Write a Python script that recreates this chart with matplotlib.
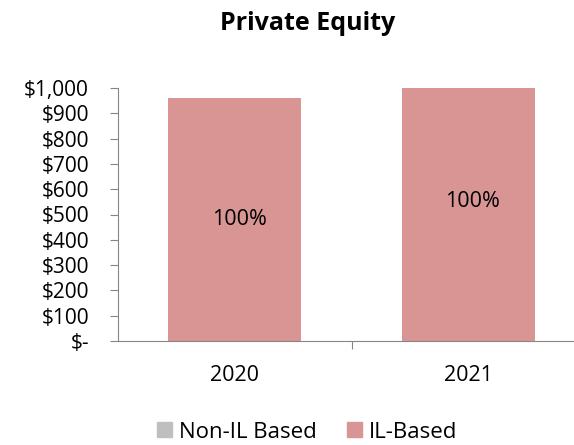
import matplotlib.pyplot as plt
from matplotlib.patches import Patch
from matplotlib.ticker import FuncFormatter

years = ['2020', '2021']
non_il = [0, 0]
il_based = [960, 1100]
shares = ['100%', '100%']

plt.rcParams['font.family'] = ['Open Sans', 'DejaVu Sans']

fig = plt.figure(figsize=(5.74, 4.45), dpi=100)
ax = fig.add_axes([118 / 574, 1 - 341 / 445, 467 / 574, 253 / 445])

x = range(len(years))
ax.bar(x, non_il, width=0.57, color='#BFBFBF')
ax.bar(x, il_based, width=0.57, bottom=non_il, color='#D99594')

for i, (v, s) in enumerate(zip(il_based, shares)):
    ax.text(i + 0.02, v / 2, s, ha='center', va='center', fontsize=15.5)

ax.set_xlim(-0.5, 1.5)
ax.set_ylim(0, 1000)
ax.set_yticks(range(0, 1001, 100))
ax.yaxis.set_major_formatter(FuncFormatter(lambda v, p: '$-' if v == 0 else f'${v:,.0f}'))
ax.set_xticks([0.5], minor=False)
ax.set_xticklabels([''])
ax.set_xticks(list(x), minor=True)
ax.set_xticklabels(years, minor=True)
ax.tick_params(axis='x', which='minor', length=0, pad=17, labelsize=15.5)
ax.tick_params(axis='x', which='major', length=6, color='#868686')
ax.tick_params(axis='y', length=5.8, color='#868686', labelsize=15, pad=15)

for side in ['top', 'right']:
    ax.spines[side].set_visible(False)
for side in ['left', 'bottom']:
    ax.spines[side].set_color('#868686')

fig.text(308 / 574, 1 - 23 / 445, 'Private Equity', ha='center', va='center',
         fontsize=18, fontweight='bold')

handles = [Patch(color='#BFBFBF'), Patch(color='#D99594')]
fig.legend(handles, ['Non-IL Based', 'IL-Based'], loc='center',
           bbox_to_anchor=(307 / 574, 1 - 432 / 445), ncol=2, frameon=False,
           fontsize=16, handlelength=0.68, handleheight=0.68, handletextpad=0.32,
           columnspacing=1.36, borderpad=0)

fig.savefig('out.png', dpi=100)
